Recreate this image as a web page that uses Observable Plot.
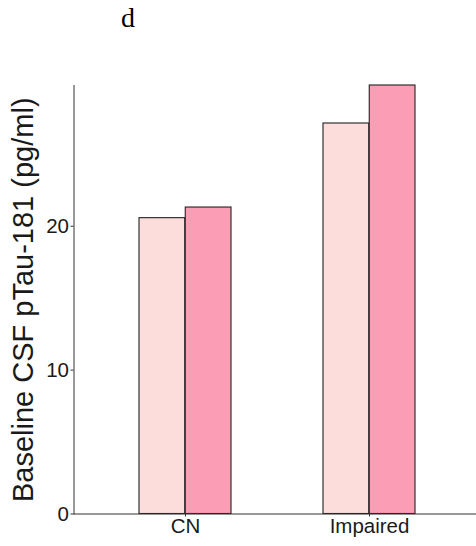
<!DOCTYPE html>
<html>
<head>
<meta charset="utf-8">
<script src="https://cdn.jsdelivr.net/npm/d3@7"></script>
<script src="https://cdn.jsdelivr.net/npm/@observablehq/plot@0.6"></script>
<style>
  html, body { margin: 0; padding: 0; background: #fff; }
  #title { height: 60px; position: relative; font-family: "Liberation Serif", "Times New Roman", serif; font-size: 28px; }
  #title span { position: absolute; left: 121px; top: 2px; }
  svg { display: block; }
  #chart svg text { font-family: "Liberation Sans", Arial, sans-serif; font-size: 20.5px; fill: #1a1a1a; }
  #chart g[aria-label="y-axis label"] text { font-size: 29px; }
</style>
</head>
<body>
<div id="title"><span>d</span></div>
<div id="chart"></div>
<script>
// Mean baseline CSF pTau-181 by cognitive status, two subgroups per status
const groups = ["CN", "Impaired"];
const subgroups = ["A", "B"];
const valuesA = [20.56, 27.14];
const valuesB = [21.30, 29.78];
const yTicks = [0, 10, 20];
const fills = ["#fddcdc", "#fa9db5"];

const rows = groups.flatMap((g, i) => [
  {group: g, sub: subgroups[0], value: valuesA[i]},
  {group: g, sub: subgroups[1], value: valuesB[i]}
]);

const plot = Plot.plot({
  width: 476,
  height: 486,
  marginTop: 25,
  marginBottom: 32.5,
  marginLeft: 73.5,
  marginRight: 0,
  x: {domain: groups, range: [73.3, 480.3], paddingInner: 0.5, paddingOuter: 0.35},
  y: {domain: [0, d3.max(valuesB)]},
  color: {domain: subgroups, range: fills},
  marks: [
    Plot.barY(rows.filter(d => d.sub === subgroups[0]), {
      x: "group", y: "value", fill: "sub", stroke: "#222", strokeWidth: 1.1,
      insetLeft: 0, insetRight: 46.25
    }),
    Plot.barY(rows.filter(d => d.sub === subgroups[1]), {
      x: "group", y: "value", fill: "sub", stroke: "#222", strokeWidth: 1.1,
      insetLeft: 46.25, insetRight: 0
    }),
    Plot.axisY({
      ticks: yTicks, tickSize: 3, tickPadding: 2, stroke: "#333",
      label: "Baseline CSF pTau-181 (pg/ml)", labelAnchor: "center", labelArrow: "none",
      labelOffset: 62
    }),
    Plot.axisX({tickSize: 3, tickPadding: 1, label: null, stroke: "#333"}),
    Plot.frame({anchor: "left", stroke: "#333"}),
    Plot.ruleY([0], {stroke: "#333", strokeWidth: 1})
  ]
});
document.getElementById("chart").appendChild(plot);
</script>
</body>
</html>
